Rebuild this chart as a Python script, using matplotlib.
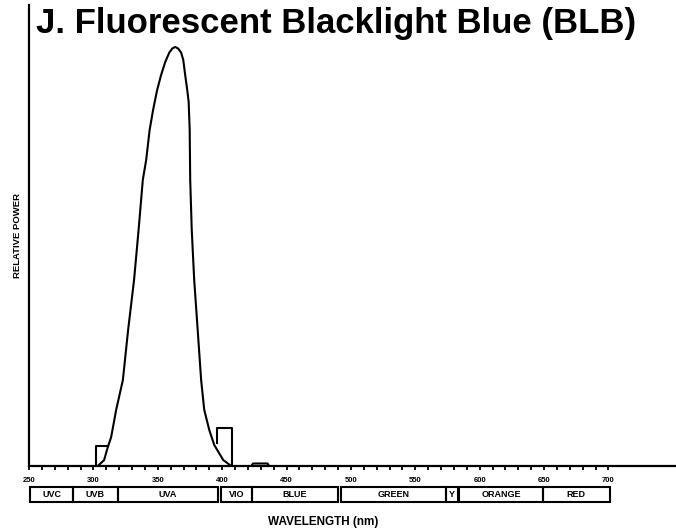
import matplotlib
matplotlib.use("Agg")
import matplotlib.pyplot as plt
from matplotlib.patches import Rectangle

plt.rcParams['font.family'] = ['Liberation Sans', 'DejaVu Sans']

# spectrum (nm, relative power)
wl = [303.4, 308.3, 311.2, 313.8, 317.7, 322.9, 327.0, 331.6, 335.1, 338.4,
      341.0, 343.7, 346.4, 349.5, 352.6, 355.8, 358.9, 361.2, 363.5, 365.9,
      368.2, 369.8, 371.3, 372.9, 374.0, 374.8, 375.2, 376.4, 378.3, 381.0,
      383.7, 386.1, 390.0, 393.9, 400.9, 407.1]
power = [0.0, 0.014, 0.045, 0.069, 0.134, 0.205, 0.325, 0.444, 0.563, 0.683,
         0.730, 0.802, 0.850, 0.897, 0.933, 0.964, 0.986, 0.996, 1.0, 0.996,
         0.986, 0.969, 0.933, 0.897, 0.869, 0.802, 0.683, 0.563, 0.444, 0.325,
         0.205, 0.134, 0.086, 0.050, 0.014, 0.0]

# mercury line pedestals
hg1_wl = [302.1, 302.1, 311.2]
hg1_p = [0.0, 0.048, 0.048]
hg2_wl = [396.2, 396.2, 407.6, 407.6]
hg2_p = [0.055, 0.091, 0.091, 0.0]
hg3_wl = [422.6, 424.0, 435.2, 436.6]
hg3_p = [0.0, 0.006, 0.006, 0.0]

# colour bands under the axis
band_names = ["UVC", "UVB", "UVA", "VIO", "BLUE", "GREEN", "Y", "ORANGE", "RED"]
band_start = [251, 284, 319, 399, 423, 492, 574, 584, 649]
band_end = [284, 319, 397, 423, 490, 574, 583, 649, 701]

tick_nm = [250, 300, 350, 400, 450, 500, 550, 600, 650, 700]

fig = plt.figure(figsize=(6.76, 5.31), dpi=100)
ax = fig.add_axes([29/676, 65/531, 647/676, 461/531])

ax.plot(wl, power, color="black", lw=1.5)
ax.plot(hg1_wl, hg1_p, color="black", lw=1.5)
ax.plot(hg2_wl, hg2_p, color="black", lw=1.5)
ax.plot(hg3_wl, hg3_p, color="black", lw=1.5)

ax.set_xlim(250, 752.5)
ax.set_ylim(0, 1.1)
ax.spines["top"].set_visible(False)
ax.spines["right"].set_visible(False)
ax.spines["left"].set_linewidth(1.6)
ax.spines["bottom"].set_linewidth(1.6)
ax.set_yticks([])
ax.set_xticks(tick_nm)
ax.set_xticks(range(250, 701, 10), minor=True)
ax.set_xticklabels([str(t) for t in tick_nm], fontsize=5.5, fontweight="bold")
ax.tick_params(axis="x", which="both", direction="out", length=3, width=1.3, pad=5)

trans = ax.get_xaxis_transform()
for name, s, e in zip(band_names, band_start, band_end):
    ax.add_patch(Rectangle((s, -0.078), e - s, 0.033, transform=trans,
                           fill=False, lw=1.5, ec="black", clip_on=False))
    ax.text((s + e) / 2, -0.0615, name, transform=trans, ha="center", va="center",
            fontsize=6.5, fontweight="bold")

fig.text(323/676, 1 - 522/531, "WAVELENGTH (nm)", ha="center", va="center",
         fontsize=8.5, fontweight="bold")
fig.text(18/676, 1 - 235/531, "RELATIVE POWER", ha="center", va="center",
         rotation=90, fontsize=6.8, fontweight="bold")
fig.text(336/676, 1 - 23/531, "J. Fluorescent Blacklight Blue (BLB)", ha="center",
         va="center", fontsize=25, fontweight="bold")

fig.savefig("out.png", dpi=100)
